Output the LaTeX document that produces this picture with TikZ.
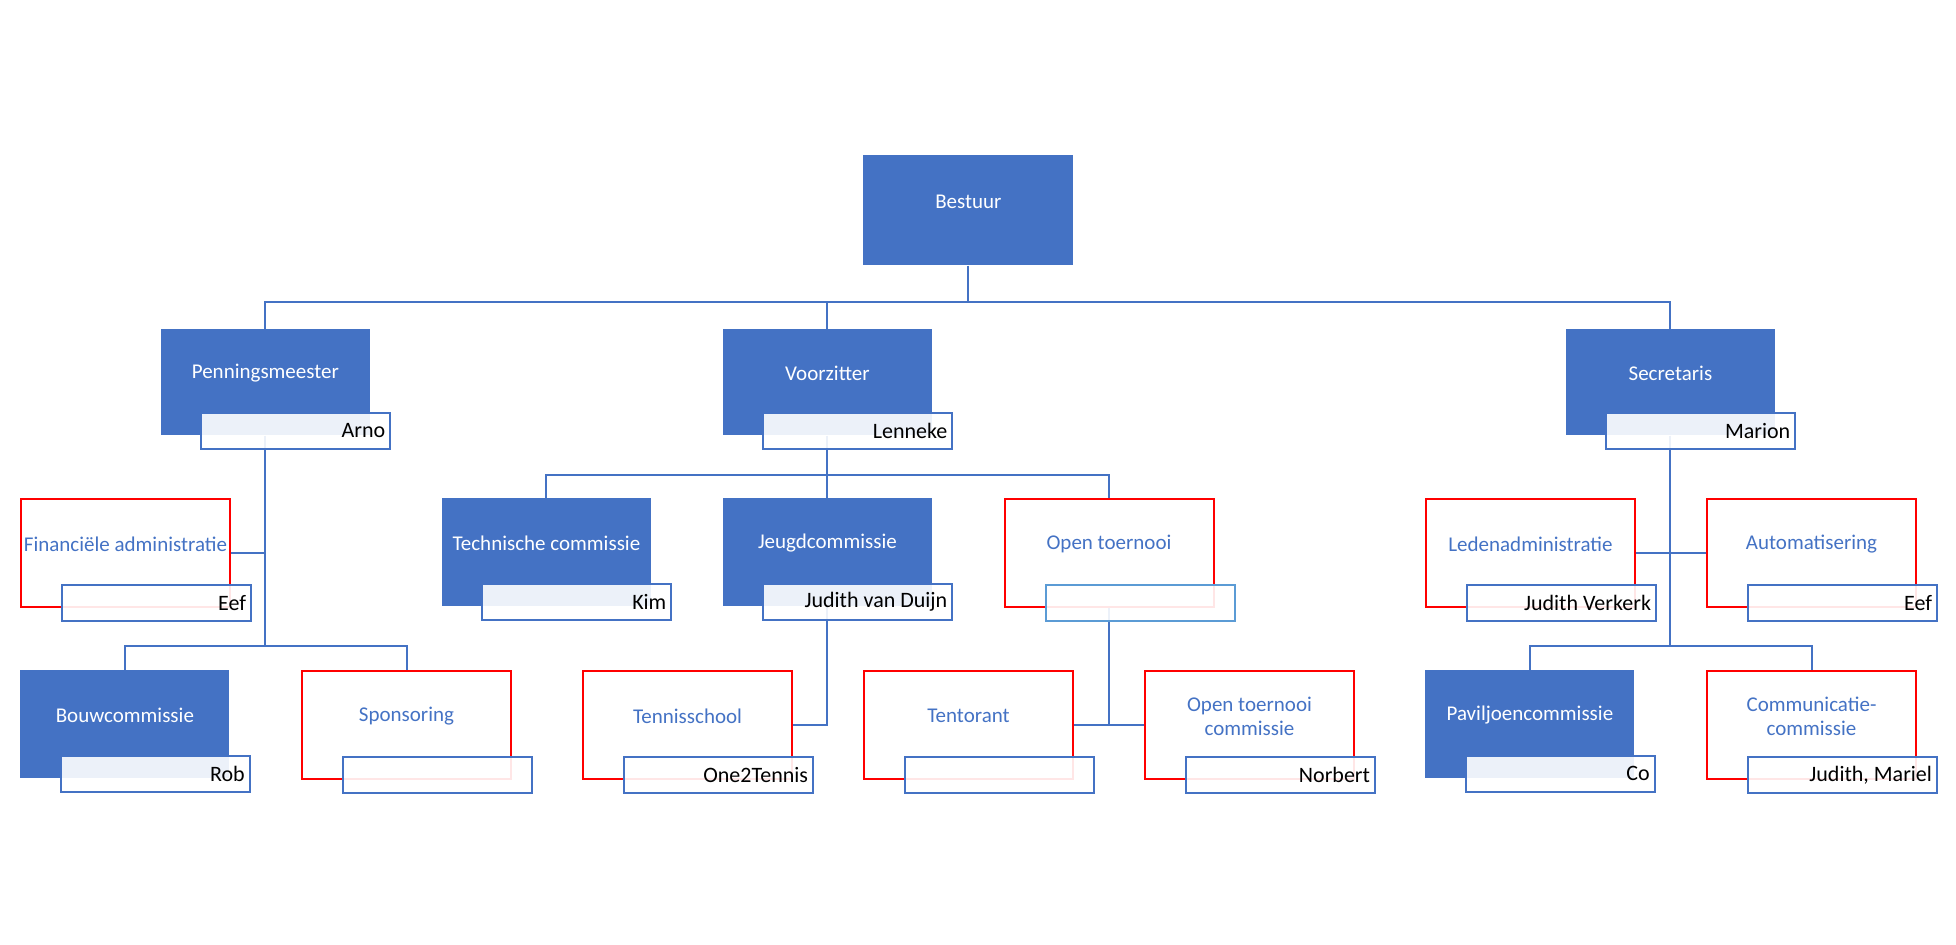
\documentclass[tikz,border=0pt]{standalone}
\usepackage{fontspec}
\setmainfont{Carlito}
\usetikzlibrary{backgrounds}
\definecolor{ofblue}{HTML}{4472C4}
\definecolor{ofred}{HTML}{FF0000}
\definecolor{oflight}{HTML}{5B9BD5}
\begin{document}
\begin{tikzpicture}[x=0.5pt, y=-0.5pt,
    unitbox/.style={minimum width=104.5pt, minimum height=54pt, inner sep=0pt, anchor=north west},
    filledbox/.style={unitbox, fill=ofblue},
    redbox/.style={unitbox, draw=ofred, line width=1pt},
    wtext/.style={text=white, align=center, font=\fontsize{10.5}{12}\selectfont, yshift=4.5pt},
    btext/.style={wtext, text=ofblue},
    namebox/.style={anchor=north east, draw=ofblue, line width=1pt, fill=white, fill opacity=0.9, text opacity=1,
      minimum width=94.5pt, minimum height=18pt, text width=89.5pt, align=flush right, inner xsep=2.5pt, inner ysep=0pt,
      font=\fontsize{11}{12}\selectfont},
    conn/.style={color=ofblue, line width=1pt}]
  \useasboundingbox (0,0) rectangle (1956,945);
  \path
    (863,155) node[filledbox, minimum width=105pt, minimum height=55pt, label={[wtext]center:Bestuur}] (bs) {}
    (160.5,329) node[filledbox, minimum height=53pt, label={[wtext]center:Penningsmeester}] (pm) {}
    (722.5,329) node[filledbox, minimum height=53pt, label={[wtext]center:Voorzitter}] (vz) {}
    (1565.5,329) node[filledbox, minimum height=53pt, label={[wtext]center:Secretaris}] (sc) {}
    (20,498) node[redbox, label={[btext]center:Financiële administratie}] (fa) {}
    (441.5,498) node[filledbox, label={[wtext]center:Technische commissie}] (tc) {}
    (722.5,498) node[filledbox, label={[wtext]center:Jeugdcommissie}] (jc) {}
    (1003.5,498) node[redbox, label={[btext]center:Open toernooi}] (ot) {}
    (1425,498) node[redbox, label={[btext]center:Ledenadministratie}] (la) {}
    (1706,498) node[redbox, label={[btext]center:Automatisering}] (au) {}
    (20,670) node[filledbox, label={[wtext]center:Bouwcommissie}] (bw) {}
    (301,670) node[redbox, label={[btext]center:Sponsoring}] (sp) {}
    (582,670) node[redbox, label={[btext]center:Tennisschool}] (ts) {}
    (863,670) node[redbox, label={[btext]center:Tentorant}] (tr) {}
    (1144,670) node[redbox, label={[btext]center:{Open toernooi\\commissie}}] (oc) {}
    (1425,670) node[filledbox, label={[wtext]center:Paviljoencommissie}] (pv) {}
    (1706,670) node[redbox, label={[btext]center:{Communicatie-\\commissie}}] (cc) {};
  \path
    ([shift={(21,-24)}]pm.south east) node[namebox] (pmn) {Arno}
    ([shift={(21,-24)}]vz.south east) node[namebox] (vzn) {Lenneke}
    ([shift={(21,-24)}]sc.south east) node[namebox] (scn) {Marion}
    ([shift={(21,-24)}]fa.south east) node[namebox] (fan) {Eef}
    ([shift={(21,-24)}]tc.south east) node[namebox] (tcn) {Kim}
    ([shift={(21,-24)}]jc.south east) node[namebox] (jcn) {Judith van Duijn}
    ([shift={(21,-24)}]ot.south east) node[namebox, draw=oflight] (otn) {}
    ([shift={(21,-24)}]la.south east) node[namebox] (lan) {Judith Verkerk}
    ([shift={(21,-24)}]au.south east) node[namebox] (aun) {Eef}
    ([shift={(21,-24)}]bw.south east) node[namebox] (bwn) {Rob}
    ([shift={(21,-24)}]sp.south east) node[namebox] (spn) {}
    ([shift={(21,-24)}]ts.south east) node[namebox] (tsn) {One2Tennis}
    ([shift={(21,-24)}]tr.south east) node[namebox] (trn) {}
    ([shift={(21,-24)}]oc.south east) node[namebox] (ocn) {Norbert}
    ([shift={(21,-24)}]pv.south east) node[namebox] (pvn) {Co}
    ([shift={(21,-24)}]cc.south east) node[namebox] (ccn) {Judith, Mariel};
  \begin{scope}[on background layer={conn}]
    \draw (bs.south) -- ++(0,36) -| (pm.north);
    \draw (bs.south) -- ++(0,36) -| (vz.north);
    \draw (bs.south) -- ++(0,36) -| (sc.north);
    \draw (pm.south) |- (fa.east);
    \draw (pm.south) -- ++(0,210) -| (bw.north);
    \draw (pm.south) -- ++(0,210) -| (sp.north);
    \draw (vz.south) -- ++(0,39) -| (tc.north);
    \draw (vz.south) -- (jc.north);
    \draw (vz.south) -- ++(0,39) -| (ot.north);
    \draw (jc.south) |- (ts.east);
    \draw (ot.south) |- (tr.east);
    \draw (ot.south) |- (oc.west);
    \draw (sc.south) |- (la.east);
    \draw (sc.south) |- (au.west);
    \draw (sc.south) -- ++(0,210) -| (pv.north);
    \draw (sc.south) -- ++(0,210) -| (cc.north);
  \end{scope}
\end{tikzpicture}
\end{document}
